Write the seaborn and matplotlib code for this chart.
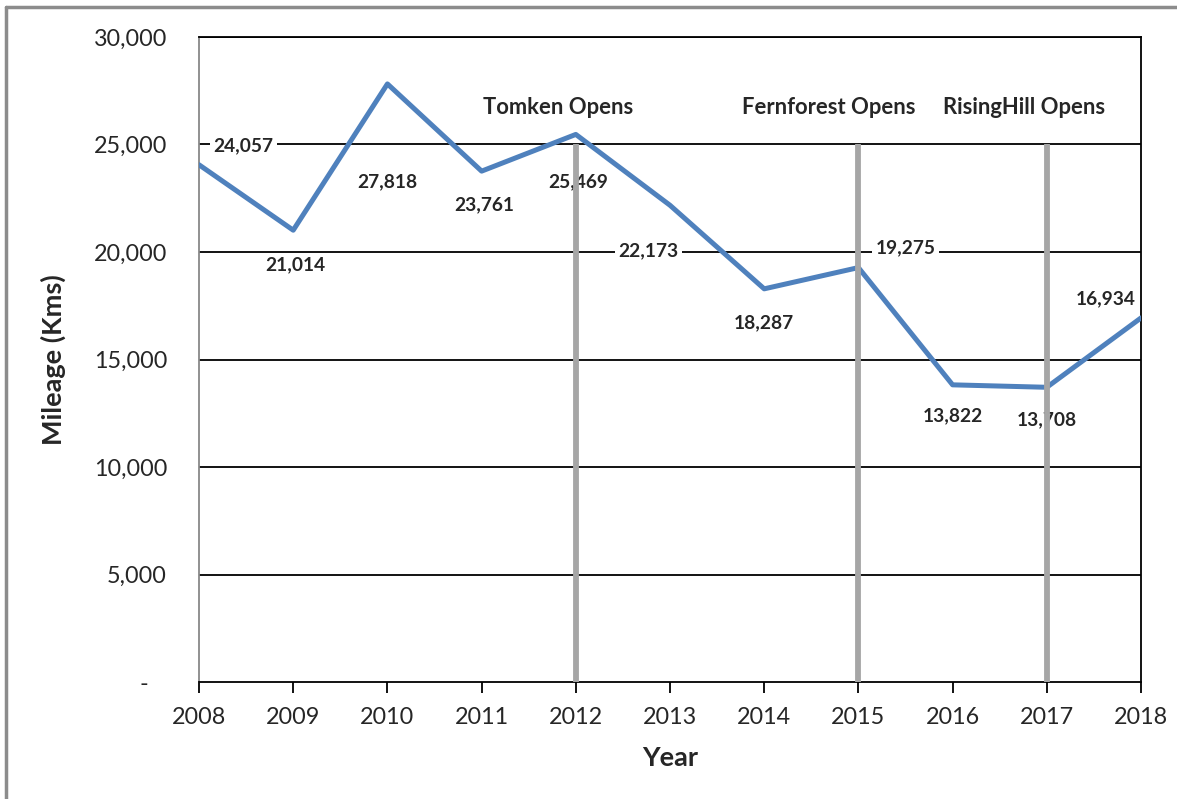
import matplotlib
matplotlib.use("Agg")
import matplotlib.pyplot as plt
import matplotlib.ticker as mticker
from matplotlib.lines import Line2D
import seaborn as sns
import pandas as pd

# Annual mileage
years = [2008, 2009, 2010, 2011, 2012, 2013, 2014, 2015, 2016, 2017, 2018]
mileage = [24057, 21014, 27818, 23761, 25469, 22173, 18287, 19275, 13822, 13708, 16934]

# Where each value label sits (year, km)
label_x = [2008.47, 2009.02, 2010.0, 2011.03, 2012.02, 2012.77, 2014.0, 2015.5, 2016.0, 2017.0, 2017.62]
label_y = [24930, 19395, 23256, 22186, 23256, 20047, 16698, 20186, 12372, 12186, 17814]

# Site openings
event_years = [2012, 2015, 2017]
event_names = ["Tomken Opens", "Fernforest Opens", "RisingHill Opens"]
event_label_x = [2011.81, 2014.68, 2016.76]
event_label_y = 26700
event_line_top = 25000

sns.set_style("white")
plt.rcParams["font.family"] = ["Lato", "DejaVu Sans"]

df = pd.DataFrame({"Year": years, "Mileage": mileage})

fig = plt.figure(figsize=(11.77, 7.99), dpi=100)
ax = fig.add_axes([0.1691, 0.1464, 0.8003, 0.8073])

# horizontal gridlines
for v in range(5000, 30001, 5000):
    ax.axhline(v, color="black", lw=1.3, zorder=1)

sns.lineplot(data=df, x="Year", y="Mileage", ax=ax, color="#4F81BD", lw=3.6, zorder=3)

for xv, yv, val in zip(label_x, label_y, mileage):
    ax.text(xv, yv, f"{val:,}", ha="center", va="center", fontsize=13.8, fontweight="bold",
            zorder=4, bbox=dict(facecolor="white", edgecolor="none", pad=2.5))

for ey in event_years:
    ax.plot([ey, ey], [0, event_line_top], color="#A6A6A6", lw=4.2, zorder=5,
            solid_capstyle="butt")

for xv, name in zip(event_label_x, event_names):
    ax.text(xv, event_label_y, name, ha="center", va="center", fontsize=15.8,
            fontweight="bold", zorder=4)

ax.set_xlim(2008, 2018)
ax.set_ylim(0, 30000)
ax.set_xticks(years)
ax.set_yticks(range(0, 30001, 5000))
# accounting-style zero: a dash padded in from the right
ax.yaxis.set_major_formatter(mticker.FuncFormatter(lambda v, p: "-   " if v == 0 else f"{int(v):,}"))

for s in ["top", "right", "bottom"]:
    ax.spines[s].set_color("black")
    ax.spines[s].set_linewidth(1.3)
ax.spines["left"].set_color("#888888")
ax.spines["left"].set_linewidth(1.3)

ax.tick_params(axis="x", direction="out", length=8, width=1.3, color="black",
               labelsize=16.8, pad=10, bottom=True)
ax.tick_params(axis="y", length=0, labelsize=16.8, pad=23)

ax.set_xlabel("Year", fontsize=19.5, fontweight="bold", labelpad=13)
ax.set_ylabel("Mileage (Kms)", fontsize=19.5, fontweight="bold", labelpad=20)

# outer chart frame (left and top edges)
fig.add_artist(Line2D([0.0055, 0.0055], [0.0, 0.991], transform=fig.transFigure,
                      color="#8C8C8C", lw=2.5))
fig.add_artist(Line2D([0.0055, 1.0], [0.991, 0.991], transform=fig.transFigure,
                      color="#8C8C8C", lw=2.5))

fig.savefig("out.png", dpi=100, facecolor="white")
